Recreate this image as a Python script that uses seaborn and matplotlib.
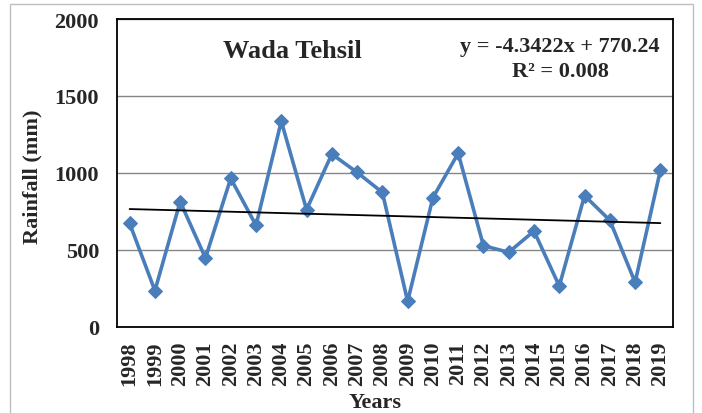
import numpy as np
import pandas as pd
import matplotlib.pyplot as plt
import seaborn as sns
from matplotlib.patches import Rectangle


years = [1998, 1999, 2000, 2001, 2002, 2003, 2004, 2005, 2006, 2007, 2008,
         2009, 2010, 2011, 2012, 2013, 2014, 2015, 2016, 2017, 2018, 2019]
rainfall = [673, 236, 814, 448, 965, 660, 1336, 762, 1123, 1004, 874,
            167, 840, 1128, 528, 485, 623, 266, 853, 693, 290, 1017]

# Excel linear trendline (x = 1..n)
slope = -4.3422
intercept = 770.24
r2 = 0.008

sns.set_style("white")
plt.rcParams['font.family'] = ['Liberation Serif', 'DejaVu Serif']
plt.rcParams['font.weight'] = 'bold'

df = pd.DataFrame({"idx": np.arange(1, len(years) + 1),
                   "year": years,
                   "rain": rainfall})

W, H = 702, 414
fig = plt.figure(figsize=(W / 100, H / 100), dpi=100)
ax = fig.add_axes([117 / W, 1 - 328 / H, (673 - 117) / W, (328 - 20) / H])

ax.grid(axis='y', color='#868686', lw=1)
ax.set_axisbelow(True)

sns.lineplot(data=df, x="idx", y="rain", color="#4A7EBB", lw=2.6,
             marker="D", markersize=7, markeredgecolor="#4A7EBB", ax=ax)

trend_x = np.array([1, len(years)])
ax.plot(trend_x, slope * trend_x + intercept, color='black', lw=1.3)

ax.set_xlim(0.5, len(years) + 0.5)
ax.set_ylim(0, 2000)
ax.set_yticks([0, 500, 1000, 1500, 2000])
ax.set_xticks(df["idx"])
ax.set_xticklabels(years, rotation=90)
ax.tick_params(axis='both', direction='out', length=5, width=1,
               color='black', labelsize=16)
ax.tick_params(axis='y', pad=8)
ax.tick_params(axis='x', pad=5)
for s in ax.spines.values():
    s.set_color('black')
    s.set_linewidth(1.3)
ax.set_xlabel("")
ax.set_ylabel("")

fig.text(292 / W, 1 - 52 / H, "Wada Tehsil", ha='center', va='center',
         fontsize=19, fontweight='bold')
fig.text(560 / W, 1 - 47 / H, f"y = {slope}x + {intercept}", ha='center',
         va='center', fontsize=16, fontweight='bold')
fig.text(560 / W, 1 - 72 / H, f"R² = {r2}", ha='center', va='center',
         fontsize=16, fontweight='bold')
fig.text(32 / W, 1 - 177 / H, "Rainfall (mm)", rotation=90, ha='center',
         va='center', fontsize=16, fontweight='bold')
fig.text(375 / W, 1 - 403 / H, "Years", ha='center', va='center',
         fontsize=16, fontweight='bold')

# chart area border
fig.add_artist(Rectangle((10 / W, -0.05), (693 - 10) / W, 1.05 - 5 / H,
                         transform=fig.transFigure, fill=False,
                         edgecolor='#BFBFBF', lw=1, clip_on=False))

fig.savefig("out.png", dpi=100)
